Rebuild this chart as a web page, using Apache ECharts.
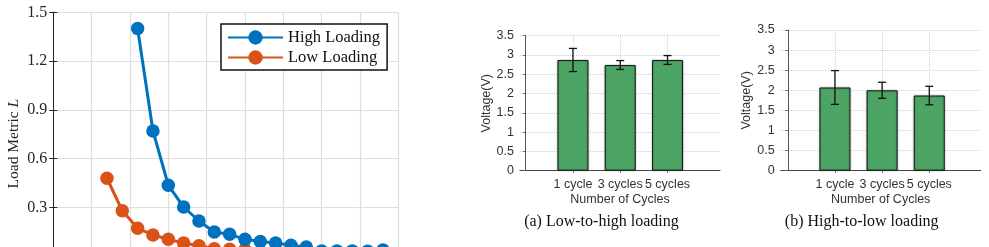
<!DOCTYPE html>
<html>
<head>
<meta charset="utf-8">
<script src="https://cdn.jsdelivr.net/npm/echarts@6/dist/echarts.min.js"></script>
<style>
html,body{margin:0;padding:0;overflow:hidden;background:#fff;}
#c{width:989px;height:300px;}
</style>
</head>
<body>
<div id="c"></div>
<script>
// ---- Data ----
const highX = [11,13,15,17,19,21,23,25,27,29,31,33,35,37,39,41,43];
const highLoading = [1.40,0.77,0.436,0.302,0.216,0.148,0.134,0.103,0.09,0.08,0.067,0.056,0.032,0.031,0.031,0.030,0.038];
const lowX = [7,9,11,13,15,17,19,21,23,25,27,29,31,33,35,37,39,41,43];
const lowLoading = [0.479,0.279,0.171,0.130,0.104,0.080,0.064,0.045,0.042,0.040,0.020,0.018,0.016,0.015,0.014,0.013,0.012,0.012,0.012];
const leftYTicks = [0, 0.3, 0.6, 0.9, 1.2, 1.5];

const categories = ['1 cycle', '3 cycles', '5 cycles'];
const catPos = [1, 2, 3];
const lowToHighMean = [2.87, 2.74, 2.87];
const lowToHighErr = [0.30, 0.115, 0.115];
const highToLowMean = [2.07, 2.00, 1.87];
const highToLowErr = [0.42, 0.20, 0.23];

const captionA = '(a) Low-to-high loading';
const captionB = '(b) High-to-low loading';

// ---- Styles ----
const SERIF = "'Liberation Serif','Times New Roman',serif";
const SANS = "'Liberation Sans',Arial,Helvetica,sans-serif";
const BLUE = '#0072BD', ORANGE = '#D95319', GREEN = '#4ca564';
const AXC = '#262626';
const BFS = 12.5;

const chart = echarts.init(document.getElementById('c'), null, {renderer: 'canvas'});

function pairs(xs, ys) { return xs.map((x, i) => [x, ys[i]]); }
function errData(means, errs) { return catPos.map((p, i) => [p, means[i] - errs[i], means[i] + errs[i]]); }

function errRender(params, api) {
  const x = api.value(0), lo = api.value(1), hi = api.value(2);
  const a = api.coord([x, hi]), b = api.coord([x, lo]);
  const w = 4;
  const st = {stroke: '#111', lineWidth: 1.3};
  return {type: 'group', children: [
    {type: 'line', shape: {x1: a[0], y1: a[1], x2: b[0], y2: b[1]}, style: st},
    {type: 'line', shape: {x1: a[0]-w, y1: a[1], x2: a[0]+w, y2: a[1]}, style: st},
    {type: 'line', shape: {x1: b[0]-w, y1: b[1], x2: b[0]+w, y2: b[1]}, style: st}
  ]};
}

function barX(gi, min, max) {
  return {
    gridIndex: gi, type: 'value', min: min, max: max,
    name: 'Number of Cycles', nameLocation: 'middle', nameGap: 22,
    nameTextStyle: {fontFamily: SANS, fontSize: BFS, color: '#333'},
    axisLine: {show: true, lineStyle: {color: '#444', width: 1}},
    axisTick: {show: true, length: 2, customValues: catPos, lineStyle: {color: '#666'}},
    axisLabel: {customValues: catPos, margin: 7, fontFamily: SANS, fontSize: BFS, color: '#333',
      formatter: v => categories[Math.round(v) - 1] || ''},
    splitLine: {show: true, lineStyle: {color: '#cfcfcf', type: 'dotted', width: 1}}
  };
}
function barY(gi) {
  return {
    gridIndex: gi, type: 'value', min: 0, max: 3.5, interval: 0.5,
    name: 'Voltage(V)', nameLocation: 'middle', nameGap: 26,
    nameTextStyle: {fontFamily: SANS, fontSize: BFS, color: '#333'},
    axisLine: {show: true, lineStyle: {color: '#555', width: 1}},
    axisTick: {show: true, length: 2.5, lineStyle: {color: '#666'}},
    axisLabel: {margin: 6, fontFamily: SANS, fontSize: BFS, color: '#333'},
    splitLine: {show: true, lineStyle: {color: '#cfcfcf', type: 'dotted', width: 1}}
  };
}

const option = {
  animation: false,
  backgroundColor: '#fff',
  grid: [
    {left: 53.3, top: 12.3, width: 345, height: 243.8},
    {left: 520, top: 35.7, width: 200, height: 135},
    {left: 780.7, top: 30, width: 200, height: 140.7}
  ],
  xAxis: [
    {gridIndex: 0, type: 'value', min: 0, max: 45, interval: 5, position: 'bottom',
      axisLine: {show: true, lineStyle: {color: AXC, width: 1}},
      axisTick: {show: true, inside: true, length: 4, lineStyle: {color: AXC}},
      axisLabel: {show: false},
      splitLine: {show: true, lineStyle: {color: '#dedede', width: 1.2}}},
    {gridIndex: 0, type: 'value', min: 0, max: 45, interval: 5, position: 'top',
      axisLine: {show: true, lineStyle: {color: AXC, width: 1}},
      axisTick: {show: true, inside: true, length: 4, lineStyle: {color: AXC}},
      axisLabel: {show: false}, splitLine: {show: false}},
    barX(1, -0.12, 4.11),
    barX(2, -0.15, 4.09)
  ],
  yAxis: [
    {gridIndex: 0, type: 'value', min: 0, max: 1.5, interval: 0.3, position: 'left',
      name: 'Load Metric {i|L}', nameLocation: 'middle', nameGap: 31,
      nameTextStyle: {fontFamily: SERIF, fontSize: 15.5, color: AXC, padding: [0, 19, 0, 0],
        rich: {i: {fontFamily: SERIF, fontSize: 15.5, fontStyle: 'italic', color: AXC}}},
      axisLine: {show: true, lineStyle: {color: AXC, width: 1}},
      axisTick: {show: true, inside: true, length: 4, lineStyle: {color: AXC}},
      axisLabel: {margin: 6, fontFamily: SERIF, fontSize: 16, color: AXC,
        formatter: v => (leftYTicks.indexOf(+v.toFixed(1)) >= 0 ? v.toFixed(1) : '')},
      splitLine: {show: true, lineStyle: {color: '#dedede', width: 1.2}}},
    {gridIndex: 0, type: 'value', min: 0, max: 1.5, interval: 0.3, position: 'right',
      axisLine: {show: true, lineStyle: {color: AXC, width: 1}},
      axisTick: {show: true, inside: true, length: 4, lineStyle: {color: AXC}},
      axisLabel: {show: false}, splitLine: {show: false}},
    barY(1),
    barY(2)
  ],
  legend: {
    data: ['High Loading', 'Low Loading'],
    orient: 'vertical', left: 221, top: 24,
    backgroundColor: '#fff', borderColor: '#111', borderWidth: 1.5,
    padding: [5, 7, 4, 6], itemGap: 3, itemWidth: 55, itemHeight: 18,
    textStyle: {fontFamily: SERIF, fontSize: 16.5, color: '#111'}
  },
  series: [
    {name: 'High Loading', type: 'line', xAxisIndex: 0, yAxisIndex: 0,
      data: pairs(highX, highLoading), symbol: 'circle', symbolSize: 13.5,
      lineStyle: {color: BLUE, width: 3}, itemStyle: {color: BLUE}, z: 3},
    {name: 'Low Loading', type: 'line', xAxisIndex: 0, yAxisIndex: 0,
      data: pairs(lowX, lowLoading), symbol: 'circle', symbolSize: 13.5,
      lineStyle: {color: ORANGE, width: 3}, itemStyle: {color: ORANGE}, z: 2},
    {name: 'lowToHigh', type: 'bar', xAxisIndex: 2, yAxisIndex: 2,
      data: pairs(catPos, lowToHighMean), barWidth: 31,
      itemStyle: {color: GREEN, borderColor: '#1a1a1a', borderWidth: 1,
        shadowColor: 'rgba(0,0,0,0.35)', shadowBlur: 2}},
    {name: 'lowToHighErr', type: 'custom', xAxisIndex: 2, yAxisIndex: 2,
      data: errData(lowToHighMean, lowToHighErr), renderItem: errRender,
      encode: {x: 0, y: [1, 2]}, z: 5},
    {name: 'highToLow', type: 'bar', xAxisIndex: 3, yAxisIndex: 3,
      data: pairs(catPos, highToLowMean), barWidth: 31,
      itemStyle: {color: GREEN, borderColor: '#1a1a1a', borderWidth: 1,
        shadowColor: 'rgba(0,0,0,0.35)', shadowBlur: 2}},
    {name: 'highToLowErr', type: 'custom', xAxisIndex: 3, yAxisIndex: 3,
      data: errData(highToLowMean, highToLowErr), renderItem: errRender,
      encode: {x: 0, y: [1, 2]}, z: 5}
  ],
  graphic: [
    {type: 'text', x: 601.5, y: 221.7, style: {text: captionA, textAlign: 'center', textVerticalAlign: 'middle',
      fontFamily: SERIF, fontSize: 16, fill: '#111'}},
    {type: 'text', x: 861.7, y: 221.7, style: {text: captionB, textAlign: 'center', textVerticalAlign: 'middle',
      fontFamily: SERIF, fontSize: 16, fill: '#111'}}
  ]
};
chart.setOption(option);
</script>
</body>
</html>
